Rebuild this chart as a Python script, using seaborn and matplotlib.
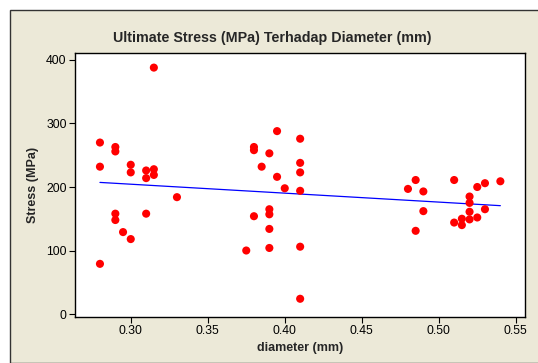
import matplotlib
matplotlib.use("Agg")
import matplotlib.pyplot as plt
import seaborn as sns
import pandas as pd
from matplotlib.patches import Rectangle

diameter = [0.28, 0.28, 0.28,
            0.29, 0.29, 0.29, 0.29,
            0.295,
            0.30, 0.30, 0.30,
            0.31, 0.31, 0.31,
            0.315, 0.315, 0.315,
            0.33,
            0.375,
            0.38, 0.38, 0.38,
            0.385,
            0.39, 0.39, 0.39, 0.39, 0.39,
            0.395, 0.395,
            0.40,
            0.41, 0.41, 0.41, 0.41, 0.41, 0.41,
            0.48,
            0.485, 0.485,
            0.49, 0.49,
            0.51, 0.51,
            0.515, 0.515,
            0.52, 0.52, 0.52, 0.52,
            0.525, 0.525,
            0.53, 0.53,
            0.54]
stress = [270, 232, 79,
          263, 256, 158, 148,
          129,
          235, 223, 118,
          226, 214, 158,
          388, 228, 219,
          184,
          100,
          263, 258, 154,
          232,
          253, 165, 157, 134, 104,
          288, 216,
          198,
          276, 238, 223, 194, 106, 24,
          197,
          211, 131,
          193, 162,
          211, 144,
          150, 140,
          185, 175, 161, 149,
          200, 152,
          206, 165,
          209]

title = "Ultimate Stress (MPa) Terhadap Diameter (mm)"
xlabel = "diameter (mm)"
ylabel = "Stress (MPa)"
xticks = [0.30, 0.35, 0.40, 0.45, 0.50, 0.55]
yticks = [0, 100, 200, 300, 400]

df = pd.DataFrame({"diameter": diameter, "stress": stress})

sns.set_style("white")
plt.rcParams['font.family'] = ['Liberation Sans', 'DejaVu Sans']

fig = plt.figure(figsize=(5.38, 3.63), dpi=100, facecolor="white")
bg = Rectangle((10 / 538, 0), 1, 1 - 10 / 363, transform=fig.transFigure,
               facecolor="#ECE9D8", edgecolor="#333333", linewidth=1.0, zorder=-10)
fig.patches.append(bg)

ax = fig.add_axes([75 / 538, 1 - 317 / 363, 450 / 538, 264 / 363])
ax.set_facecolor("white")
sns.regplot(data=df, x="diameter", y="stress", ax=ax, ci=None,
            scatter_kws=dict(s=34, color="#FF0000", edgecolors="none", alpha=1, zorder=3),
            line_kws=dict(color="#0000FF", lw=0.9, zorder=2))

ax.set_xlim(0.2638, 0.556)
ax.set_ylim(-4.7, 411)
ax.set_xticks(xticks)
ax.set_xticklabels([f"{t:.2f}" for t in xticks])
ax.set_yticks(yticks)
ax.set_yticklabels([str(t) for t in yticks])
ax.tick_params(axis="both", direction="out", length=4, width=0.8, labelsize=8.8,
               colors="black", bottom=True, left=True, top=False, right=False, pad=2)
for s in ax.spines.values():
    s.set_color("black")
    s.set_linewidth(1.0)
ax.set_xlabel(xlabel, fontsize=9, fontweight="bold", labelpad=3)
ax.set_ylabel(ylabel, fontsize=9, fontweight="bold", labelpad=5)
fig.text(272 / 538, 1 - 38 / 363, title, ha="center", va="center",
         fontsize=10.3, fontweight="bold")

fig.savefig("out.png", dpi=100, facecolor="white")
